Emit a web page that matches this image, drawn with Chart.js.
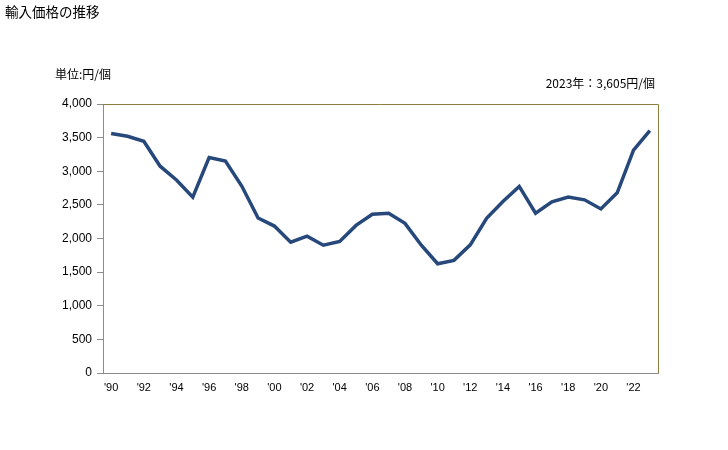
<!DOCTYPE html>
<html lang="ja">
<head>
<meta charset="utf-8">
<script src="https://cdn.jsdelivr.net/npm/chart.js@4/dist/chart.umd.min.js"></script>
<style>
  html, body { margin: 0; padding: 0; background: #fff; }
  #wrap { position: relative; width: 728px; height: 450px; }
  .txt { position: absolute; font-family: "Noto Sans CJK JP", sans-serif; color: #000; white-space: nowrap; line-height: 1; }
  #title { left: 5px; top: 5px; font-size: 13.5px; }
  #unit { left: 55px; top: 68px; font-size: 12px; }
  #note { right: 73px; top: 77px; font-size: 12px; }
  canvas { position: absolute; left: 0; top: 0; }
</style>
</head>
<body>
<div id="wrap">
  <canvas id="chart" width="728" height="450"></canvas>
  <div class="txt" id="title">輸入価格の推移</div>
  <div class="txt" id="unit">単位:円/個</div>
  <div class="txt" id="note">2023年：3,605円/個</div>
</div>
<script>
/* ── Data ─────────────────────────────────────────────────────── */
var years = [
  1990, 1991, 1992, 1993, 1994, 1995, 1996, 1997, 1998, 1999,
  2000, 2001, 2002, 2003, 2004, 2005, 2006, 2007, 2008, 2009,
  2010, 2011, 2012, 2013, 2014, 2015, 2016, 2017, 2018, 2019,
  2020, 2021, 2022, 2023
];
var prices = [
  3560, 3520, 3445, 3075, 2870, 2615, 3205, 3150, 2780, 2305,
  2185, 1945, 2035, 1900, 1955, 2195, 2360, 2375, 2225, 1900,
  1625, 1675, 1905, 2300, 2550, 2775, 2375, 2545, 2615, 2575,
  2440, 2680, 3315, 3605
];
var yTicks = [0, 500, 1000, 1500, 2000, 2500, 3000, 3500, 4000];

/* ── Layout constants (plot box in px) ───────────────────────── */
var PLOT_LEFT = 103, PLOT_TOP = 104, PLOT_RIGHT = 658, PLOT_BOTTOM = 373;
var AXIS_GRAY = '#8c8c8c';
var FRAME_OLIVE = '#8b7d3c';
var LINE_BLUE = '#27487a';

// top and right edge of the plot box
var frameEdges = {
  id: 'frameEdges',
  afterDraw: function(chart) {
    var a = chart.chartArea, ctx = chart.ctx;
    ctx.save();
    ctx.strokeStyle = FRAME_OLIVE;
    ctx.lineWidth = 1;
    ctx.beginPath();
    ctx.moveTo(a.left, a.top + 0.5);
    ctx.lineTo(a.right + 0.5, a.top + 0.5);
    ctx.lineTo(a.right + 0.5, a.bottom);
    ctx.stroke();
    ctx.restore();
  }
};

new Chart(document.getElementById('chart'), {
  type: 'line',
  data: {
    labels: years,
    datasets: [{
      data: prices,
      borderColor: LINE_BLUE,
      borderWidth: 3.5,
      pointRadius: 0,
      tension: 0,
      fill: false
    }]
  },
  options: {
    responsive: false,
    animation: false,
    layout: { padding: { left: 0, top: PLOT_TOP, right: 728 - PLOT_RIGHT, bottom: 0 } },
    plugins: { legend: { display: false }, tooltip: { enabled: false } },
    scales: {
      x: {
        type: 'category',
        offset: true,
        grid: { display: false },
        border: { display: true, color: AXIS_GRAY, width: 1 },
        ticks: {
          autoSkip: false,
          maxRotation: 0,
          padding: 0,
          color: '#000',
          font: { family: 'Arial, "Liberation Sans", sans-serif', size: 11 },
          callback: function(v, i) {
            var y = years[i];
            return (i % 2 === 0) ? "'" + String(y).slice(2) : '';
          }
        },
        afterFit: function(s) { s.height = 450 - PLOT_BOTTOM; }
      },
      y: {
        min: 0,
        max: 4000,
        afterBuildTicks: function(s) {
          s.ticks = yTicks.map(function(v) { return { value: v }; });
        },
        grid: { display: true, drawOnChartArea: false, drawTicks: true, tickLength: 6, color: AXIS_GRAY },
        border: { display: true, color: AXIS_GRAY, width: 1 },
        ticks: {
          padding: 5,
          color: '#000',
          font: { family: 'Arial, "Liberation Sans", sans-serif', size: 12 },
          callback: function(v) { return v.toLocaleString('en-US'); }
        },
        afterFit: function(s) { s.width = PLOT_LEFT; }
      }
    }
  },
  plugins: [frameEdges]
});
</script>
</body>
</html>
